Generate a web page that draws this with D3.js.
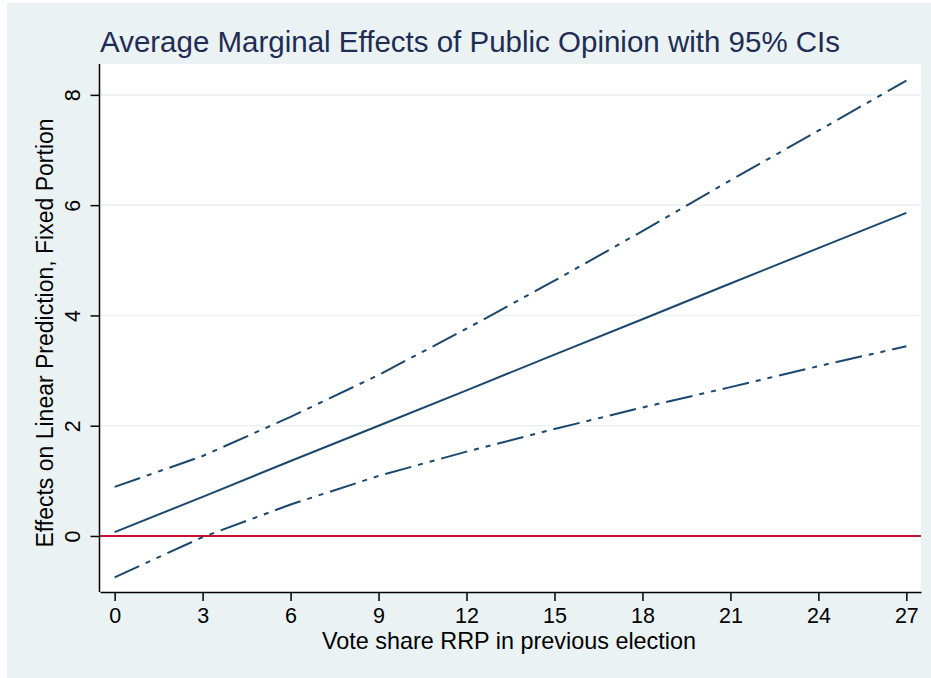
<!DOCTYPE html>
<html>
<head>
<meta charset="utf-8">
<script src="https://cdn.jsdelivr.net/npm/d3@7"></script>
<style>
  html, body { margin: 0; padding: 0; background: #ffffff; }
  svg { display: block; }
  text { font-family: "Liberation Sans", Arial, Helvetica, sans-serif; }
</style>
</head>
<body>
<svg id="chart" width="931" height="678"></svg>
<script>
// Evaluation points (vote share RRP in previous election)
const voteShare = [0, 3, 6, 9, 12, 15, 18, 21, 24, 27];
// Average marginal effect and its 95% confidence bounds
const effect = [0.07, 0.71, 1.36, 2.00, 2.64, 3.29, 3.93, 4.58, 5.22, 5.86];
const upperCI = [0.89, 1.45, 2.16, 2.92, 3.76, 4.63, 5.53, 6.45, 7.35, 8.26];
const lowerCI = [-0.75, -0.02, 0.57, 1.09, 1.53, 1.94, 2.33, 2.70, 3.08, 3.44];
// Axis ticks
const xTicks = [0, 3, 6, 9, 12, 15, 18, 21, 24, 27];
const yTicks = [0, 2, 4, 6, 8];
const referenceLine = 0;

const titleText = "Average Marginal Effects of Public Opinion with 95% CIs";
const xTitle = "Vote share RRP in previous election";
const yTitle = "Effects on Linear Prediction, Fixed Portion";

const svg = d3.select("#chart");
const W = 931, H = 678;
const plot = { left: 100, right: 921, top: 64, bottom: 592 };

const bgColor = "#EAF2F3";
const lineColor = "#1A476F";

// graph region
svg.append("rect").attr("x", 7).attr("y", 3).attr("width", W - 7).attr("height", H - 3)
  .attr("fill", bgColor);
// plot region
svg.append("rect").attr("x", plot.left).attr("y", plot.top)
  .attr("width", plot.right - plot.left).attr("height", plot.bottom - plot.top)
  .attr("fill", "#ffffff");

const x = d3.scaleLinear().domain([-0.5, 27.5]).range([plot.left, plot.right]);
const y = d3.scaleLinear().domain([-1.016, 8.56]).range([plot.bottom, plot.top]);

// horizontal grid
svg.append("g").selectAll("line").data(yTicks).join("line")
  .attr("x1", plot.left).attr("x2", plot.right)
  .attr("y1", d => y(d)).attr("y2", d => y(d))
  .attr("stroke", bgColor).attr("stroke-width", 1.6);

// zero reference line
svg.append("line")
  .attr("x1", plot.left).attr("x2", plot.right)
  .attr("y1", y(referenceLine)).attr("y2", y(referenceLine))
  .attr("stroke", "#C8102E").attr("stroke-width", 2);

const rows = voteShare.map((v, i) => ({ v, m: effect[i], lo: lowerCI[i], hi: upperCI[i] }));
const lineOf = key => d3.line().x(d => x(d.v)).y(d => y(d[key]));

svg.append("path").datum(rows).attr("d", lineOf("hi"))
  .attr("fill", "none").attr("stroke", lineColor).attr("stroke-width", 2)
  .attr("stroke-dasharray", "27,7,5,7,5,7");
svg.append("path").datum(rows).attr("d", lineOf("lo"))
  .attr("fill", "none").attr("stroke", lineColor).attr("stroke-width", 2)
  .attr("stroke-dasharray", "27,7,5,7,5,7");
svg.append("path").datum(rows).attr("d", lineOf("m"))
  .attr("fill", "none").attr("stroke", lineColor).attr("stroke-width", 2);

// x axis
const gx = svg.append("g").attr("transform", `translate(0,${plot.bottom})`)
  .call(d3.axisBottom(x).tickValues(xTicks).tickSize(9).tickSizeOuter(0).tickFormat(d3.format("d")));
gx.select(".domain").attr("stroke", "#000").attr("stroke-width", 1.5);
gx.selectAll(".tick line").attr("stroke", "#000").attr("stroke-width", 1.5);
gx.selectAll(".tick text").attr("y", 31).attr("dy", 0)
  .attr("font-size", 21.5).attr("fill", "#000")
  .style("font-family", "'Liberation Sans', Arial, sans-serif");

// y axis
const gy = svg.append("g").attr("transform", `translate(${plot.left - 0.5},0)`)
  .call(d3.axisLeft(y).tickValues(yTicks).tickSize(9).tickSizeOuter(0).tickFormat(d3.format("d")));
gy.select(".domain").attr("stroke", "#000").attr("stroke-width", 1.5)
  .attr("d", `M0,${plot.top}V${plot.bottom}`);
gy.selectAll(".tick line").attr("stroke", "#000").attr("stroke-width", 1.5);
gy.selectAll(".tick text")
  .attr("transform", "rotate(-90)")
  .attr("x", 0).attr("y", -19.5).attr("dy", 0)
  .attr("text-anchor", "middle")
  .attr("font-size", 21.5).attr("fill", "#000")
  .style("font-family", "'Liberation Sans', Arial, sans-serif");

// titles
svg.append("text").attr("x", 100).attr("y", 52)
  .attr("font-size", 29.5).attr("fill", "#1F2D54")
  .text(titleText);

svg.append("text").attr("x", 509).attr("y", 649)
  .attr("text-anchor", "middle").attr("font-size", 23.4).attr("fill", "#000")
  .text(xTitle);

svg.append("text")
  .attr("transform", `translate(53,${333}) rotate(-90)`)
  .attr("text-anchor", "middle").attr("font-size", 23).attr("fill", "#000")
  .text(yTitle);
</script>
</body>
</html>
